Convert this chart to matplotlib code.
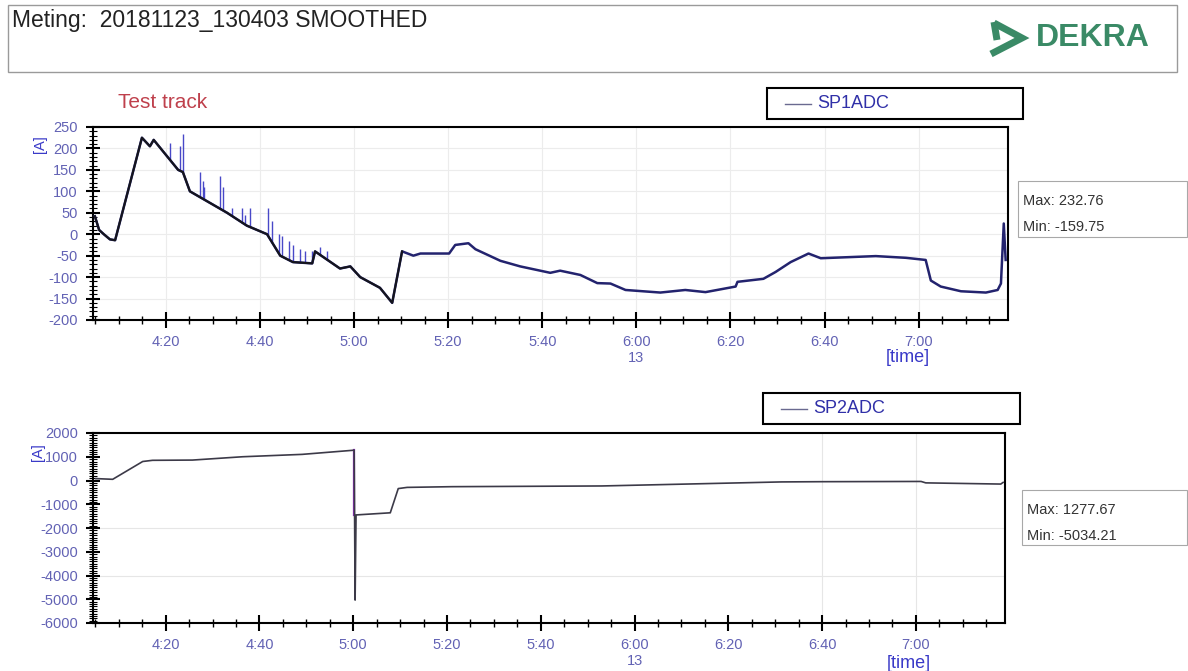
import numpy as np
import matplotlib
matplotlib.use("Agg")
import matplotlib.pyplot as plt
from matplotlib.patches import Rectangle
from matplotlib.ticker import MultipleLocator, FuncFormatter

# ---------------- data (time in minutes after 4:00) ----------------
sp1_t = [4.9, 5.8, 6.8, 8.1, 9.2, 14.9, 16.6, 17.4, 22.6, 23.6, 25.1, 33.0, 37.2, 41.5,
         44.3, 47.0, 51.1, 51.7, 57.0, 59.2, 61.3, 65.5, 68.1, 70.2, 72.6, 74.1, 80.2,
         81.5, 84.3, 85.8, 91.1, 95.3, 101.7, 103.8, 108.1, 111.7, 114.5, 117.7, 125.1,
         130.4, 134.7, 141.1, 141.5, 147.0, 149.6, 152.8, 156.6, 159.2, 170.9, 177.3,
         181.5, 182.6, 184.7, 189.0, 194.3, 196.8, 197.5, 198.1, 198.5]
sp1_v = [42, 10, 0, -12, -14, 225, 205, 220, 150, 145, 100, 50, 20, 0,
         -50, -65, -68, -40, -80, -75, -100, -125, -160, -40, -50, -45, -45,
         -25, -21, -35, -62, -75, -90, -85, -95, -114, -115, -130, -136,
         -130, -135, -122, -111, -104, -88, -65, -45, -56, -51, -55,
         -60, -108, -122, -133, -136, -130, -115, 25, -60]

spike_t = [20.9, 23.0, 23.6, 27.2, 27.9, 28.1, 31.5, 32.1, 34.0, 36.2, 36.8, 37.9,
           41.7, 42.6, 44.0, 44.7, 46.2, 47.0, 48.5, 49.6, 51.1, 52.8, 54.3]
spike_v = [212, 205, 233, 146, 125, 110, 136, 110, 60, 60, 45, 62,
           60, 30, 0, -5, -15, -25, -35, -40, -40, -30, -40]

sp2_t = [5.1, 8.7, 15.1, 17.2, 25.7, 36.4, 49.1, 59.8, 60.2, 60.4, 60.6, 67.9, 69.6,
         71.5, 81.1, 113.0, 151.3, 159.8, 181.1, 182.1, 198.1, 198.6]
sp2_v = [80, 50, 800, 850, 860, 1000, 1100, 1270, 1277, -5034, -1450, -1360, -340,
         -290, -260, -230, -60, -50, -40, -100, -150, -80]

x_min, x_max = 4.5, 199.0
y1_lim = (-200, 250)
y2_lim = (-6000, 2000)
stats1 = ["Max: 232.76", "Min: -159.75"]
stats2 = ["Max: 1277.67", "Min: -5034.21"]
title = "Meting:  20181123_130403 SMOOTHED"

# ---------------- figure ----------------
W, H = 1188, 671
plt.rcParams["font.family"] = ["Liberation Sans", "DejaVu Sans"]
plt.rcParams["axes.unicode_minus"] = False
fig = plt.figure(figsize=(W / 100, H / 100), dpi=100)
fig.patch.set_facecolor("white")

def fx(x):
    return x / W

def fy(y):
    return 1 - y / H

tick_col = "#6262b4"
lab_col = "#3a3ac8"

def fmt_time(v, pos):
    m = int(round(v))
    s = f"{4 + m // 60}:{m % 60:02d}"
    if m == 120:
        s += "\n13"
    return s

def style_axis(ax, ylim, ymaj, ymin_):
    ax.set_xlim(x_min, x_max)
    ax.set_ylim(*ylim)
    ax.xaxis.set_major_locator(MultipleLocator(20))
    ax.xaxis.set_minor_locator(MultipleLocator(5))
    ax.xaxis.set_major_formatter(FuncFormatter(fmt_time))
    ax.yaxis.set_major_locator(MultipleLocator(ymaj))
    ax.yaxis.set_minor_locator(MultipleLocator(ymin_))
    for s in ax.spines.values():
        s.set_linewidth(1.5)
    ax.tick_params(axis="both", which="major", direction="inout", length=11, width=1.5,
                   labelsize=10.5, labelcolor=tick_col)
    ax.tick_params(axis="both", which="minor", direction="inout", length=6, width=1.0)
    ax.tick_params(axis="y", which="major", length=10, pad=6)
    ax.tick_params(axis="y", which="minor", length=6, width=0.8)
    ax.tick_params(axis="x", pad=5)

# ---- top chart ----
ax1 = fig.add_axes([fx(93), fy(320), fx(1008) - fx(93), fy(127) - fy(320)])
style_axis(ax1, y1_lim, 50, 10)
ax1.grid(True, which="major", color="#ececec", lw=0.8)
ax1.set_axisbelow(True)
t1 = np.array(sp1_t)
v1 = np.array(sp1_v)
base = np.interp(spike_t, t1, v1)
ax1.vlines(spike_t, base, spike_v, color="#4848c8", lw=1.0, zorder=2)
ax1.plot(t1, v1, color="#23236e", lw=1.8, zorder=3)
mask = t1 <= 70.2
ax1.plot(t1[mask], v1[mask], color="#15151c", lw=1.5, zorder=4)
ax1.set_ylabel("[A]", color=lab_col, fontsize=10.5)
ax1.yaxis.set_label_coords(-0.05, 0.91)
ax1.set_xlabel("[time]", color=lab_col, fontsize=13)
ax1.xaxis.set_label_coords(0.89, -0.15)

# ---- bottom chart ----
ax2 = fig.add_axes([fx(93), fy(623), fx(1005) - fx(93), fy(433) - fy(623)])
style_axis(ax2, y2_lim, 1000, 100)
for gy in (-2000, -4000):
    ax2.axhline(gy, color="#e6e6e6", lw=0.8, zorder=0)
for gx in (160, 180):
    ax2.axvline(gx, color="#e6e6e6", lw=0.8, zorder=0)
ax2.plot(sp2_t, sp2_v, color="#3c3a48", lw=1.2, zorder=3)
# purple trace on the fall just after 5:00
ax2.plot([sp2_t[8], sp2_t[8]], [sp2_v[8], sp2_v[10]], color="#8a2ab8", lw=1.6, zorder=2)
ax2.set_ylabel("[A]", color=lab_col, fontsize=10.5)
ax2.yaxis.set_label_coords(-0.053, 0.9)
ax2.set_xlabel("[time]", color=lab_col, fontsize=13)
ax2.xaxis.set_label_coords(0.894, -0.17)

# ---------------- decorations ----------------
fig.patches.append(Rectangle((fx(8), fy(72)), fx(1177) - fx(8), fy(5) - fy(72),
                             transform=fig.transFigure, fill=False, ec="#9a9a9a", lw=1.0))
fig.text(fx(12), fy(20), title, fontsize=16.5, color="#222222", va="center", ha="left")

green = "#3a8a66"
fig.text(fx(1036), fy(38), "DEKRA", fontsize=23, fontweight="bold", color=green,
         va="center", ha="left")
fig.lines.append(plt.Line2D([fx(994), fx(1022), fx(991)], [fy(23), fy(38), fy(54)],
                            transform=fig.transFigure, color=green, lw=5,
                            solid_joinstyle="miter", solid_capstyle="butt"))
fig.lines.append(plt.Line2D([fx(994), fx(997)], [fy(22), fy(40)],
                            transform=fig.transFigure, color=green, lw=5,
                            solid_capstyle="butt"))

fig.text(fx(118), fy(103), "Test track", fontsize=15, color="#bf404c", va="center")

def legend_box(x0, y0, x1, y1, name):
    fig.patches.append(Rectangle((fx(x0), fy(y1)), fx(x1) - fx(x0), fy(y0) - fy(y1),
                                 transform=fig.transFigure, fill=False, ec="black", lw=1.5))
    ym = (y0 + y1) / 2
    fig.lines.append(plt.Line2D([fx(x0 + 18), fx(x0 + 44)], [fy(ym), fy(ym)],
                                transform=fig.transFigure, color="#6a6a90", lw=1))
    fig.text(fx(x0 + 50), fy(ym), name, fontsize=13, color="#3030a8", va="center")

legend_box(767, 88, 1023, 119, "SP1ADC")
legend_box(763, 393, 1020, 424, "SP2ADC")

def stats_box(x0, y0, y1, lines):
    fig.patches.append(Rectangle((fx(x0), fy(y1)), fx(1187) - fx(x0), fy(y0) - fy(y1),
                                 transform=fig.transFigure, fill=False, ec="#a8a8a8", lw=0.8))
    fig.text(fx(x0 + 5), fy(y0 + 20), lines[0], fontsize=10.5, color="#333333", va="center")
    fig.text(fx(x0 + 5), fy(y0 + 46), lines[1], fontsize=10.5, color="#333333", va="center")

stats_box(1018, 181, 237, stats1)
stats_box(1022, 490, 545, stats2)

fig.savefig("out.png", dpi=100, facecolor="white")
